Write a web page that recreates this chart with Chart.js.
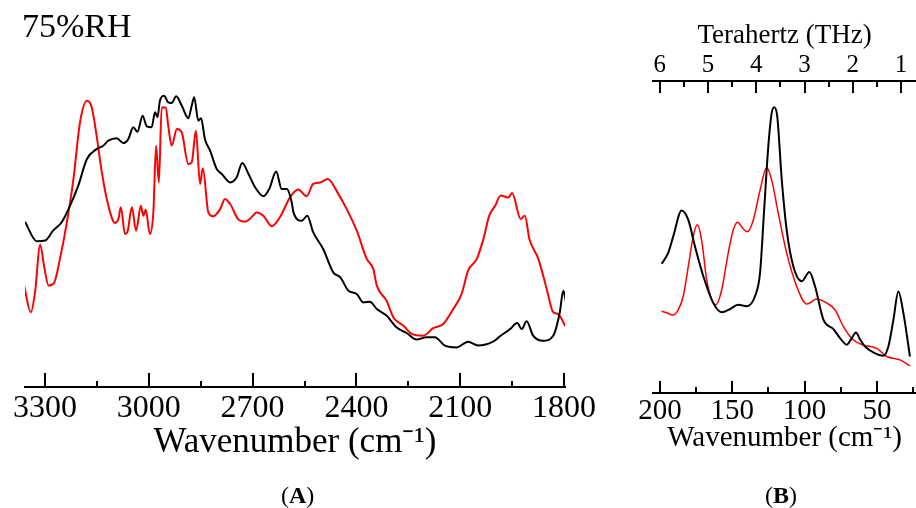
<!DOCTYPE html>
<html>
<head>
<meta charset="utf-8">
<script src="https://cdn.jsdelivr.net/npm/chart.js@4.4.0/dist/chart.umd.min.js"></script>
<style>
    html, body { margin: 0; padding: 0; background: #fff; }
    #wrap { position: relative; width: 916px; height: 508px; overflow: hidden; font-family: 'Liberation Serif', serif; }
    #canvasA { position: absolute; left: 0; top: 0; }
    #canvasB { position: absolute; left: 600px; top: 0; }
    .lbl { position: absolute; line-height: 1; white-space: nowrap; color: #000; }
</style>
</head>
<body>
<div id="wrap">
    <canvas id="canvasA" width="610" height="508" style="width:610px;height:508px"></canvas>
    <canvas id="canvasB" width="316" height="508" style="width:316px;height:508px"></canvas>
    <div class="lbl" style="left:22px; top:9px; font-size:34px;">75%RH</div>
    <div class="lbl" style="left:281px; top:483px; font-size:24px;">(<b>A</b>)</div>
    <div class="lbl" style="left:765px; top:483px; font-size:24px;">(<b>B</b>)</div>
</div>
<script>
// panel A: mid-IR region (cm-1), intensity in arbitrary units
const aWaveBlack = [3358, 3324, 3300, 3277, 3252, 3228, 3204, 3179, 3151, 3132, 3117, 3093, 3074, 3059, 3045, 3033, 3018, 3006, 2992, 2982, 2975, 2968, 2956, 2944, 2934, 2921, 2905, 2886, 2876, 2869, 2857, 2849, 2838, 2823, 2804, 2789, 2765, 2746, 2730, 2712, 2693, 2669, 2652, 2632, 2616, 2601, 2587, 2582, 2558, 2542, 2525, 2496, 2467, 2447, 2423, 2399, 2380, 2361, 2341, 2313, 2284, 2255, 2226, 2197, 2173, 2144, 2110, 2077, 2048, 2005, 1985, 1956, 1935, 1922, 1908, 1889, 1860, 1831, 1812, 1802, 1794];
const aIntBlack = [55.1, 48.6, 48.8, 52.1, 54.9, 60.4, 67.1, 76, 79.3, 80.4, 82.1, 82.9, 81.3, 82.7, 86.6, 85.1, 90.4, 86.9, 86.6, 91.6, 89.9, 95.4, 97.1, 94.9, 94.7, 96.9, 93.8, 89.6, 93.8, 96.6, 88.8, 89.6, 82.7, 78.8, 72.7, 71, 68.2, 69.9, 74.7, 71, 66.6, 63.6, 66, 71.8, 66, 66, 61.6, 58.2, 55.4, 57.1, 51.6, 46, 38.2, 36.6, 32.1, 31, 28.2, 28.4, 26, 23.8, 19.9, 18, 15.8, 16.6, 16.6, 13.8, 13.2, 15.1, 13.8, 15.1, 16.9, 19.3, 21.3, 19.3, 21.9, 17.1, 15.4, 17.1, 24.9, 32.1, 28.4];

const aWaveRed = [3361, 3341, 3329, 3314, 3303, 3290, 3274, 3257, 3237, 3218, 3199, 3179, 3165, 3151, 3136, 3117, 3098, 3088, 3081, 3069, 3062, 3049, 3037, 3023, 3016, 3009, 2997, 2987, 2979, 2971, 2963, 2951, 2944, 2934, 2919, 2905, 2886, 2876, 2864, 2852, 2844, 2828, 2814, 2794, 2780, 2765, 2741, 2722, 2708, 2688, 2669, 2645, 2621, 2592, 2568, 2544, 2525, 2505, 2483, 2452, 2428, 2399, 2370, 2351, 2341, 2313, 2293, 2264, 2240, 2207, 2178, 2149, 2120, 2096, 2077, 2052, 2033, 2016, 1999, 1983, 1961, 1950, 1925, 1913, 1900, 1874, 1850, 1831, 1817, 1794];
const aIntRed = [34, 24.9, 31.6, 47.4, 40.4, 33.8, 34.7, 42.7, 54.9, 69.3, 88.2, 95.4, 93.2, 83.8, 71.6, 60.4, 54.7, 56, 59.9, 51, 51.6, 59.9, 52.1, 60.4, 57.1, 59.1, 51, 58.2, 80.4, 68.2, 93.2, 93.2, 87.1, 80.4, 86, 84.9, 74.3, 74.9, 85.4, 67.7, 72.9, 58.2, 56.9, 59.3, 62.7, 61, 55.8, 55.1, 56, 58.2, 57.1, 53.6, 56.6, 63.2, 65.8, 63.6, 67.7, 68.2, 69.3, 64.3, 59.3, 52.1, 42.7, 39.3, 33.8, 28.8, 23.2, 20.4, 17.7, 17.1, 19.6, 21, 26, 31, 38.8, 42.7, 49.3, 57.1, 60.4, 63.8, 63.2, 64.7, 56, 57.1, 49.3, 42.7, 32.7, 24.9, 24.3, 19.9];

// panel B: far-IR / THz region (cm-1)
const bWaveBlack = [198.8, 194.3, 190.8, 185, 180.4, 175.8, 170, 163.1, 157.3, 151.6, 145.9, 140, 134.3, 130.8, 128.1, 125.1, 122.8, 121, 118.9, 115.8, 112.4, 107.8, 102, 96.7, 92.8, 87, 80.1, 75.5, 70.9, 67.4, 64.5, 61.7, 58.2, 52.5, 45.6, 42.1, 38.6, 35.2, 31.7, 27.2];
const bIntBlack = [41.4, 44.9, 50.2, 58.5, 55.5, 47, 37.4, 28.8, 25.9, 26.9, 28.3, 27.8, 31, 38.5, 57.7, 79, 89.6, 91.6, 88.6, 68.4, 52.3, 40.6, 35.8, 38.8, 34.2, 23.5, 20.5, 17.6, 15.5, 17.6, 19.4, 17.2, 14.9, 13, 11.9, 14.9, 23.5, 32.5, 25.6, 11.7];

const bWaveRed = [198.8, 195.4, 190.8, 187.3, 183.9, 180.4, 177, 174.2, 171.2, 167.7, 164.2, 161.3, 157.3, 152.8, 149.3, 146.3, 142.8, 139.6, 135.5, 130.8, 126.2, 122.8, 118.2, 112.4, 105.5, 98.5, 91.6, 84.7, 79, 73.2, 66.3, 59.4, 50.1, 43.2, 34, 27.1];
const bIntRed = [26.2, 25.7, 25, 26.7, 31, 40.6, 50.2, 53.9, 49.1, 36.3, 29.9, 28.3, 33.1, 44.8, 52.3, 54.7, 52.8, 51.7, 55.4, 65, 72.3, 68.3, 57.6, 44.9, 34.2, 28.5, 30.1, 28.8, 26.7, 21.3, 17, 15.4, 14.3, 11.7, 10.6, 8.7];

// axis ticks
const aTicksMain = [3300, 3000, 2700, 2400, 2100, 1800];
const aTicksMinor = [3150, 2850, 2550, 2250, 1950];
const bTicksMain = [200, 150, 100, 50];
const bTicksMinor = [175, 125, 75, 25];
const thzTicksMain = [6, 5, 4, 3, 2, 1];
const thzTicksMinor = [5.5, 4.5, 3.5, 2.5, 1.5];
const CM_PER_THZ = 33.356;

const FONT = "'Liberation Serif', 'Times New Roman', serif";

function toPoints(xs, ys) {
    return xs.map((x, i) => ({ x: x, y: ys[i] }));
}

function tickList(main, minor) {
    return main.map(v => ({ value: v, isMain: true }))
        .concat(minor.map(v => ({ value: v, isMain: false })))
        .sort((p, q) => q.value - p.value);
}

// tick marks pointing into the plot, like the original figure
const inwardTicks = {
    id: 'inwardTicks',
    afterDraw(chart, args, opts) {
        const ctx = chart.ctx;
        ctx.save();
        ctx.strokeStyle = '#000';
        ctx.lineWidth = 2;
        Object.values(chart.scales).forEach(scale => {
            if (!scale.isHorizontal()) return;
            const len = opts[scale.id];
            if (!len) return;
            const bottom = scale.options.position === 'bottom';
            const y0 = bottom ? scale.top : scale.bottom;
            const dir = bottom ? -1 : 1;
            ctx.beginPath();
            scale.ticks.forEach(t => {
                const x = Math.round(scale.getPixelForValue(t.value));
                const l = t.isMain ? len[0] : len[1];
                ctx.moveTo(x, y0);
                ctx.lineTo(x, y0 + dir * l);
            });
            ctx.stroke();
        });
        ctx.restore();
    }
};

const hiddenY = (min, max) => ({ display: false, min: min, max: max });

new Chart(document.getElementById('canvasA'), {
    type: 'line',
    data: {
        datasets: [
            { data: toPoints(aWaveBlack, aIntBlack), borderColor: '#000', borderWidth: 2, pointRadius: 0, cubicInterpolationMode: 'monotone' },
            { data: toPoints(aWaveRed, aIntRed), borderColor: '#ff0000', borderWidth: 2, pointRadius: 0, cubicInterpolationMode: 'monotone' }
        ]
    },
    options: {
        responsive: false,
        animation: false,
        layout: { padding: { left: 25, right: 45, top: 87, bottom: 0 } },
        plugins: { legend: { display: false }, tooltip: { enabled: false }, inwardTicks: { x: [14, 6] } },
        scales: {
            x: {
                type: 'linear',
                position: 'bottom',
                reverse: true,
                min: 1797,
                max: 3358,
                grid: { display: false, drawTicks: false },
                border: { display: true, color: '#000', width: 2 },
                afterBuildTicks: s => { s.ticks = tickList(aTicksMain, aTicksMinor); },
                afterFit: s => { s.height = 121; },
                ticks: {
                    autoSkip: false,
                    maxRotation: 0,
                    padding: 2,
                    color: '#000',
                    font: { family: FONT, size: 32 },
                    callback: v => aTicksMain.includes(v) ? String(v) : ''
                },
                title: {
                    display: true,
                    text: 'Wavenumber (cm\u207B\u00B9)',
                    color: '#000',
                    font: { family: FONT, size: 35 },
                    padding: { top: 0, bottom: 44 }
                }
            },
            y: hiddenY(0, 100)
        }
    },
    plugins: [inwardTicks]
});

new Chart(document.getElementById('canvasB'), {
    type: 'line',
    data: {
        datasets: [
            { data: toPoints(bWaveBlack, bIntBlack), borderColor: '#000', borderWidth: 2, pointRadius: 0, cubicInterpolationMode: 'monotone' },
            { data: toPoints(bWaveRed, bIntRed), borderColor: '#ff0000', borderWidth: 1.5, pointRadius: 0, cubicInterpolationMode: 'monotone' }
        ]
    },
    options: {
        responsive: false,
        animation: false,
        layout: { padding: { left: 53, right: 0, top: 0, bottom: 0 } },
        plugins: { legend: { display: false }, tooltip: { enabled: false }, inwardTicks: { x: [12, 6], xTop: [12, 6] } },
        scales: {
            x: {
                type: 'linear',
                position: 'bottom',
                reverse: true,
                min: 23,
                max: 204.8,
                grid: { display: false, drawTicks: false },
                border: { display: true, color: '#000', width: 2 },
                afterBuildTicks: s => { s.ticks = tickList(bTicksMain, bTicksMinor); },
                afterFit: s => { s.height = 115; },
                ticks: {
                    autoSkip: false,
                    maxRotation: 0,
                    padding: 1,
                    color: '#000',
                    font: { family: FONT, size: 29 },
                    callback: v => bTicksMain.includes(v) ? String(v) : ''
                },
                title: {
                    display: true,
                    text: 'Wavenumber (cm\u207B\u00B9)',
                    color: '#000',
                    font: { family: FONT, size: 29 },
                    padding: { top: 0, bottom: 52 }
                }
            },
            xTop: {
                type: 'linear',
                position: 'top',
                reverse: true,
                min: 23 / CM_PER_THZ,
                max: 204.8 / CM_PER_THZ,
                grid: { display: false, drawTicks: false },
                border: { display: true, color: '#000', width: 2 },
                afterBuildTicks: s => { s.ticks = tickList(thzTicksMain, thzTicksMinor); },
                afterFit: s => { s.height = 81; },
                ticks: {
                    autoSkip: false,
                    maxRotation: 0,
                    padding: 1,
                    color: '#000',
                    font: { family: FONT, size: 25 },
                    callback: v => thzTicksMain.includes(v) ? String(v) : ''
                },
                title: {
                    display: true,
                    text: 'Terahertz (THz)',
                    color: '#000',
                    font: { family: FONT, size: 27 },
                    padding: { top: 20, bottom: 0 }
                }
            },
            y: hiddenY(0, 100)
        }
    },
    plugins: [inwardTicks]
});
</script>
</body>
</html>
